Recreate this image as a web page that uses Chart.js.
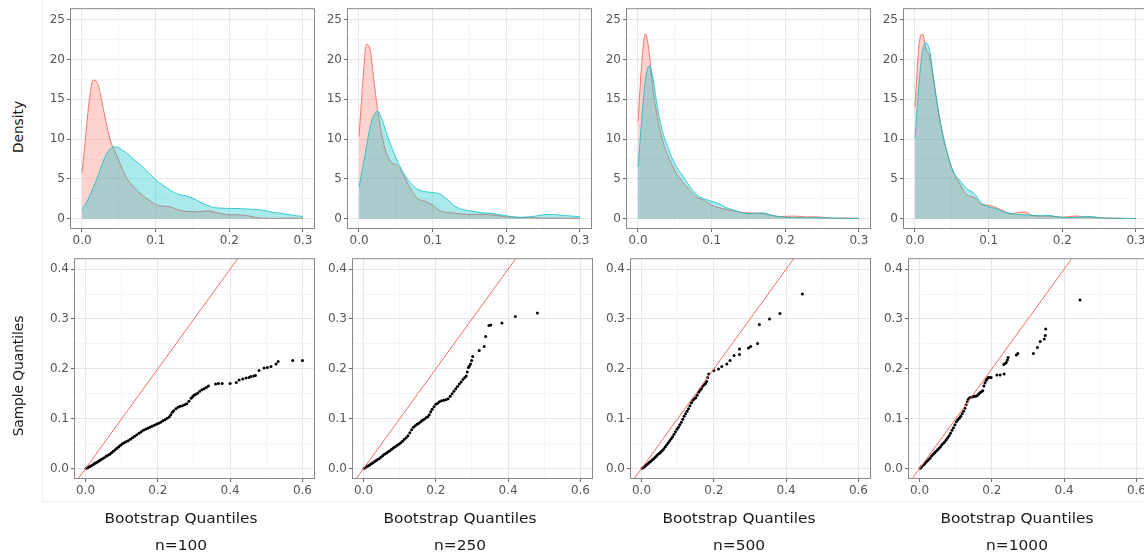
<!DOCTYPE html>
<html>
<head>
<meta charset="utf-8">
<script src="https://cdn.jsdelivr.net/npm/chart.js@4/dist/chart.umd.min.js"></script>
<style>
  html, body { margin: 0; padding: 0; background: #fff; width: 1144px; height: 554px; overflow: hidden; position: relative; font-family: "DejaVu Sans", sans-serif; }
  canvas { position: absolute; }
  .frame { position: absolute; left: 42px; top: -2px; width: 1200px; height: 503px; border-left: 1px solid #efefef; border-bottom: 1px solid #efefef; }
  .title { position: absolute; white-space: nowrap; color: #1a1a1a; font-size: 14px; line-height: 14px; transform: translateX(-50%) scaleX(1.1); }
  .ytitle { position: absolute; white-space: nowrap; color: #1a1a1a; font-size: 13.7px; line-height: 14px; transform: translate(-50%, -50%) rotate(-90deg); }
</style>
</head>
<body>
<div class="frame"></div>
<script>
// ---- sample sizes (one column each) ----
const sampleSizes = ['n=100', 'n=250', 'n=500', 'n=1000'];

// ---- axis ticks ----
const densityXTicks = [0, 0.1, 0.2, 0.3];
const densityXLabels = ['0.0', '0.1', '0.2', '0.3'];
const densityYTicks = [0, 5, 10, 15, 20, 25];
const densityYLabels = ['0', '5', '10', '15', '20', '25'];
const qqXTicks = [0, 0.2, 0.4, 0.6];
const qqXLabels = ['0.0', '0.2', '0.4', '0.6'];
const qqYTicks = [0, 0.1, 0.2, 0.3, 0.4];
const qqYLabels = ['0.0', '0.1', '0.2', '0.3', '0.4'];

// ---- density estimates on a shared grid ----
const densityGrid = [0, 0.005, 0.01, 0.015, 0.02, 0.025, 0.03, 0.035, 0.04, 0.045, 0.05, 0.055, 0.06, 0.07, 0.08, 0.09, 0.1, 0.11, 0.12, 0.13, 0.14, 0.15, 0.16, 0.17, 0.18, 0.19, 0.2, 0.21, 0.22, 0.23, 0.24, 0.25, 0.26, 0.27, 0.28, 0.29, 0.3];

const densA100 = [5.8, 10.5, 15.0, 17.4, 17.2, 15.6, 13.3, 11.1, 9.4, 8.4, 7.3, 6.2, 5.2, 4.0, 3.1, 2.4, 1.8, 1.6, 1.5, 1.15, 0.95, 0.9, 0.9, 1.0, 0.85, 0.65, 0.5, 0.5, 0.45, 0.3, 0.12, 0.08, 0.06, 0.06, 0.1, 0.08, 0.06];
const densB100 = [1.2, 1.9, 2.8, 3.9, 5.0, 6.3, 7.5, 8.4, 8.9, 9.05, 8.9, 8.6, 8.3, 7.5, 6.7, 5.8, 4.9, 4.2, 3.6, 3.1, 2.9, 2.6, 2.1, 1.7, 1.4, 1.35, 1.3, 1.3, 1.25, 1.2, 1.15, 1.0, 0.8, 0.7, 0.55, 0.4, 0.3];

const densA250 = [10.3, 17.0, 21.9, 21.2, 17.5, 13.8, 11.0, 8.9, 7.6, 7.0, 6.8, 6.4, 5.5, 3.8, 2.5, 2.2, 1.7, 1.0, 0.8, 0.7, 0.6, 0.55, 0.55, 0.55, 0.5, 0.4, 0.25, 0.2, 0.15, 0.15, 0.12, 0.1, 0.1, 0.1, 0.08, 0.08, 0.06];
const densB250 = [4.0, 6.5, 9.0, 11.5, 13.0, 13.5, 12.8, 11.4, 10.0, 8.8, 7.7, 6.7, 5.8, 4.5, 3.7, 3.4, 3.3, 3.1, 2.4, 1.6, 1.2, 1.0, 0.85, 0.75, 0.7, 0.55, 0.4, 0.25, 0.2, 0.25, 0.35, 0.5, 0.55, 0.5, 0.4, 0.35, 0.25];

const densA500 = [12.2, 19.5, 23.2, 21.0, 16.5, 13.4, 11.0, 9.3, 8.0, 7.0, 6.0, 5.3, 4.7, 3.6, 2.7, 2.3, 1.7, 1.4, 1.2, 1.0, 0.8, 0.75, 0.7, 0.65, 0.45, 0.3, 0.3, 0.35, 0.3, 0.25, 0.25, 0.2, 0.1, 0.05, 0.1, 0.08, 0.05];
const densB500 = [6.5, 12.5, 17.5, 19.2, 17.8, 14.8, 12.2, 10.4, 9.1, 7.9, 6.9, 6.1, 5.5, 4.1, 3.0, 2.5, 2.2, 1.9, 1.4, 1.1, 0.8, 0.65, 0.7, 0.75, 0.5, 0.3, 0.2, 0.15, 0.15, 0.15, 0.15, 0.15, 0.12, 0.1, 0.08, 0.06, 0.05];

const densA1000 = [14.0, 21.5, 23.2, 21.3, 20.3, 17.4, 14.4, 11.7, 9.5, 7.8, 6.3, 5.3, 4.5, 3.0, 2.7, 1.8, 1.7, 1.4, 1.0, 0.6, 0.8, 0.85, 0.4, 0.35, 0.35, 0.3, 0.2, 0.3, 0.35, 0.25, 0.2, 0.15, 0.1, 0.08, 0.06, 0.04, 0.03];
const densB1000 = [10.1, 16.5, 21.0, 22.1, 21.0, 17.8, 14.6, 11.9, 9.7, 7.9, 6.4, 5.4, 4.9, 3.8, 3.2, 2.0, 1.5, 1.3, 0.9, 0.7, 0.55, 0.5, 0.45, 0.4, 0.45, 0.3, 0.2, 0.15, 0.2, 0.25, 0.3, 0.15, 0.1, 0.08, 0.06, 0.04, 0.03];

// ---- quantile pairs: bootstrap (x) vs sample (y) ----
const qqX100 = [0.002,0.006,0.010,0.014,0.018,0.022,0.026,0.030,0.034,0.038,0.042,0.047,0.052,0.057,0.062,0.067,0.072,0.077,0.082,0.087,0.092,0.097,0.102,0.107,0.112,0.118,0.124,0.130,0.136,0.142,0.148,0.154,0.160,0.166,0.172,0.178,0.184,0.190,0.196,0.202,0.208,0.214,0.220,0.226,0.232,0.236,0.240,0.244,0.250,0.256,0.262,0.268,0.274,0.280,0.286,0.292,0.296,0.300,0.305,0.310,0.316,0.322,0.328,0.334,0.340,
  0.360,0.368,0.378,0.400,0.417,0.425,0.435,0.444,0.452,0.457,0.465,0.470,0.480,0.494,0.503,0.513,0.527,0.533,0.573,0.600];
const qqY100 = [0.001,0.002,0.004,0.005,0.007,0.009,0.011,0.012,0.014,0.016,0.018,0.020,0.022,0.025,0.027,0.029,0.032,0.035,0.038,0.041,0.044,0.047,0.050,0.052,0.054,0.056,0.059,0.062,0.065,0.068,0.071,0.074,0.077,0.079,0.081,0.083,0.085,0.087,0.089,0.091,0.093,0.096,0.098,0.101,0.104,0.108,0.113,0.116,0.120,0.123,0.125,0.126,0.128,0.130,0.135,0.141,0.144,0.147,0.149,0.151,0.155,0.158,0.160,0.163,0.166,
  0.170,0.171,0.171,0.171,0.173,0.178,0.180,0.182,0.183,0.185,0.186,0.187,0.197,0.202,0.203,0.205,0.210,0.215,0.217,0.217];

const qqX250 = [0.002,0.006,0.010,0.014,0.018,0.022,0.026,0.030,0.034,0.038,0.043,0.048,0.053,0.058,0.063,0.068,0.073,0.078,0.083,0.088,0.093,0.098,0.103,0.108,0.113,0.118,0.123,0.128,0.133,0.138,0.143,0.148,0.153,0.158,0.163,0.168,0.173,0.178,0.182,0.186,0.190,0.195,0.200,0.205,0.210,0.216,0.222,0.228,0.234,0.240,0.245,0.250,0.255,0.260,0.265,0.270,0.275,0.280,0.284,0.287,0.290,0.293,0.296,0.299,0.302,
  0.320,0.334,0.338,0.347,0.352,0.383,0.420,0.481];
const qqY250 = [0.001,0.003,0.005,0.006,0.008,0.010,0.012,0.014,0.016,0.018,0.020,0.023,0.026,0.029,0.031,0.034,0.036,0.039,0.042,0.044,0.047,0.049,0.052,0.055,0.059,0.062,0.066,0.072,0.078,0.083,0.086,0.089,0.091,0.094,0.097,0.099,0.102,0.104,0.108,0.114,0.119,0.124,0.129,0.131,0.134,0.136,0.137,0.138,0.140,0.145,0.150,0.155,0.160,0.165,0.170,0.174,0.179,0.183,0.186,0.194,0.203,0.206,0.210,0.217,0.225,
  0.237,0.245,0.265,0.287,0.288,0.292,0.305,0.312];

const qqX500 = [0.002,0.006,0.010,0.014,0.018,0.022,0.026,0.030,0.034,0.038,0.042,0.046,0.050,0.054,0.058,0.062,0.066,0.070,0.074,0.078,0.082,0.086,0.090,0.094,0.098,0.102,0.106,0.110,0.114,0.118,0.122,0.126,0.130,0.134,0.138,0.142,0.146,0.150,0.154,0.158,0.162,0.166,0.170,0.174,0.177,0.180,0.183,0.186,
  0.200,0.213,0.222,0.236,0.245,0.256,0.271,0.271,0.296,0.302,0.321,0.326,0.354,0.383,0.445];
const qqY500 = [0.001,0.003,0.005,0.008,0.010,0.013,0.015,0.018,0.020,0.023,0.026,0.029,0.031,0.034,0.037,0.040,0.044,0.048,0.052,0.056,0.060,0.064,0.069,0.074,0.079,0.083,0.088,0.093,0.099,0.105,0.110,0.115,0.120,0.126,0.132,0.137,0.140,0.142,0.147,0.153,0.157,0.161,0.166,0.169,0.171,0.175,0.183,0.190,
  0.197,0.200,0.205,0.210,0.217,0.227,0.229,0.240,0.242,0.245,0.251,0.289,0.300,0.311,0.350];

const qqX1000 = [0.002,0.006,0.010,0.014,0.018,0.022,0.026,0.030,0.034,0.038,0.042,0.046,0.050,0.054,0.058,0.062,0.066,0.070,0.074,0.078,0.082,0.086,0.090,0.094,0.098,0.102,0.106,0.110,0.114,0.118,0.122,0.126,0.129,0.132,0.135,0.139,0.143,0.147,0.151,0.155,0.159,0.163,0.167,0.171,0.175,0.178,0.181,0.184,0.187,0.190,0.194,0.198,
  0.214,0.223,0.234,0.233,0.237,0.240,0.243,0.245,0.268,0.272,0.315,0.326,0.334,0.345,0.348,0.349,0.444];
const qqY1000 = [0.001,0.004,0.007,0.010,0.013,0.016,0.019,0.022,0.026,0.029,0.032,0.035,0.038,0.041,0.044,0.048,0.051,0.054,0.058,0.062,0.066,0.071,0.077,0.082,0.088,0.094,0.098,0.101,0.105,0.110,0.115,0.121,0.128,0.134,0.139,0.142,0.143,0.144,0.145,0.145,0.146,0.149,0.152,0.154,0.156,0.166,0.172,0.177,0.180,0.183,0.183,0.183,
  0.188,0.188,0.190,0.209,0.211,0.213,0.218,0.223,0.228,0.231,0.231,0.243,0.255,0.260,0.267,0.280,0.338];

// reference line y = x (intercept 0, slope 1), spanning past both axes
const refLineEnds = [-0.05, 0.7];

// ---- panel geometry ----
const AX_W = 44, AX_H = 24, PAD_T = 8, PAD_R = 14;
const topLefts = [71, 348, 627, 904];
const botLefts = [75, 353, 631, 909];
const PLOT_H = 220, TOP_W = 243, BOT_W = 239;
const captionCenters = [181, 460, 739, 1017];

const densityPairs = [[densA100, densB100], [densA250, densB250], [densA500, densB500], [densA1000, densB1000]];
const qqPairs = [[qqX100, qqY100], [qqX250, qqY250], [qqX500, qqY500], [qqX1000, qqY1000]];

function addCanvas(left, top, width, height) {
  const c = document.createElement('canvas');
  c.width = width; c.height = height;
  c.style.left = left + 'px'; c.style.top = top + 'px';
  c.style.width = width + 'px'; c.style.height = height + 'px';
  document.body.appendChild(c);
  return c;
}

// major breaks plus the midpoints between them (minor grid)
function tickList(values, labels, min, max) {
  const out = [];
  values.forEach((v, i) => {
    out.push({ value: v, text: labels[i], minor: false });
    if (i < values.length - 1) out.push({ value: (v + values[i + 1]) / 2, text: '', minor: true });
  });
  return out.filter(t => t.value >= min && t.value <= max);
}

function axis(pos, min, max, values, labels) {
  return {
    type: 'linear', position: pos, min: min, max: max,
    afterBuildTicks: s => { s.ticks = tickList(values, labels, min, max); },
    afterFit: s => { if (pos === 'left') s.width = AX_W; else s.height = AX_H; },
    ticks: {
      autoSkip: false, maxRotation: 0, minRotation: 0, padding: 2,
      color: '#555555', font: { family: 'DejaVu Sans', size: 12 },
      callback: (v, i, ticks) => (ticks[i] && ticks[i].text) ? ticks[i].text : ''
    },
    grid: {
      drawOnChartArea: true, drawTicks: true, tickLength: 4,
      color: c => (c.tick && c.tick.minor) ? '#f3f3f3' : '#e6e6e6',
      lineWidth: c => (c.tick && c.tick.minor) ? 0.8 : 1.1,
      tickColor: c => (c.tick && c.tick.minor) ? 'rgba(0,0,0,0)' : '#666',
      tickWidth: 1
    },
    border: { display: false }
  };
}

// grey box round each panel, drawn over the data
const panelFrame = {
  id: 'panelFrame',
  afterDatasetsDraw(chart) {
    const { ctx, chartArea: a } = chart;
    ctx.save();
    ctx.strokeStyle = '#888888';
    ctx.lineWidth = 1;
    ctx.strokeRect(a.left - 0.5, a.top - 0.5, a.right - a.left + 1, a.bottom - a.top + 1);
    ctx.restore();
  }
};

const common = {
  responsive: false, animation: false, events: [],
  plugins: { legend: { display: false }, tooltip: { enabled: false } }
};

// ---- density panels (top row) ----
densityPairs.forEach((pair, k) => {
  const cv = addCanvas(topLefts[k] - AX_W, 8 - PAD_T, AX_W + TOP_W + PAD_R, PAD_T + PLOT_H + AX_H);
  const toPts = vals => densityGrid.map((x, i) => ({ x: x, y: vals[i] }));
  new Chart(cv, {
    type: 'line',
    data: {
      datasets: [
        { data: toPts(pair[1]), order: 0, borderColor: 'rgba(0,191,196,0.75)', borderWidth: 1,
          backgroundColor: 'rgba(0,191,196,0.33)', fill: 'origin', pointRadius: 0, cubicInterpolationMode: 'monotone' },
        { data: toPts(pair[0]), order: 1, borderColor: '#F8766D', borderWidth: 1,
          backgroundColor: 'rgba(248,118,109,0.33)', fill: 'origin', pointRadius: 0, cubicInterpolationMode: 'monotone' }
      ]
    },
    options: Object.assign({}, common, {
      layout: { padding: { top: PAD_T, right: PAD_R, left: 0, bottom: 0 }, autoPadding: false },
      scales: {
        x: axis('bottom', -0.015, 0.315, densityXTicks, densityXLabels),
        y: axis('left', -1.15, 26.3, densityYTicks, densityYLabels)
      }
    }),
    plugins: [panelFrame]
  });
});

// ---- Q-Q panels (bottom row) ----
qqPairs.forEach((pair, k) => {
  const cv = addCanvas(botLefts[k] - AX_W, 258 - PAD_T, AX_W + BOT_W + PAD_R, PAD_T + PLOT_H + AX_H);
  new Chart(cv, {
    type: 'scatter',
    data: {
      datasets: [
        { type: 'line', data: refLineEnds.map(v => ({ x: v, y: v })), order: 0, borderColor: '#f56b66', borderWidth: 1,
          pointRadius: 0, fill: false },
        { data: pair[0].map((x, i) => ({ x: x, y: pair[1][i] })), order: 1, pointRadius: 1.5, pointBorderWidth: 0,
          backgroundColor: '#000', borderColor: '#000' }
      ]
    },
    options: Object.assign({}, common, {
      layout: { padding: { top: PAD_T, right: PAD_R, left: 0, bottom: 0 }, autoPadding: false },
      scales: {
        x: axis('bottom', -0.029, 0.632, qqXTicks, qqXLabels),
        y: axis('left', -0.0187, 0.42, qqYTicks, qqYLabels)
      }
    }),
    plugins: [panelFrame]
  });
});

// ---- axis titles and column captions ----
function addText(cls, text, left, top) {
  const d = document.createElement('div');
  d.className = cls; d.textContent = text;
  d.style.left = left + 'px'; d.style.top = top + 'px';
  document.body.appendChild(d);
}
addText('ytitle', 'Density', 18, 127);
addText('ytitle', 'Sample Quantiles', 18, 376);
sampleSizes.forEach((s, k) => {
  addText('title', 'Bootstrap Quantiles', captionCenters[k], 511);
  addText('title', s, captionCenters[k], 538);
});
</script>
</body>
</html>
